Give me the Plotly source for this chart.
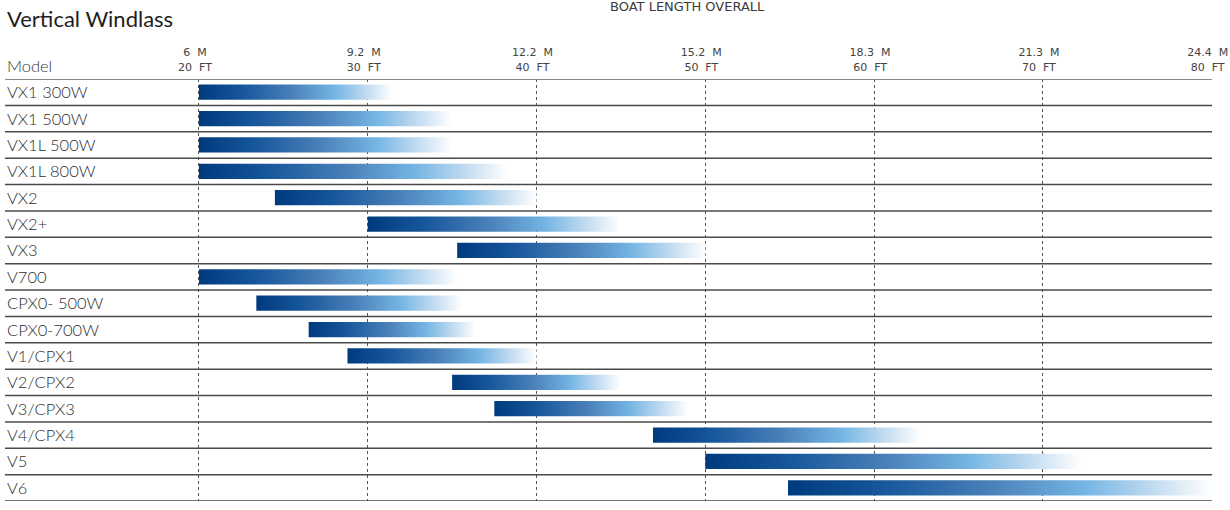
import plotly.graph_objects as go

models = ["VX1 300W", "VX1 500W", "VX1L 500W", "VX1L 800W", "VX2", "VX2+", "VX3",
          "V700", "CPX0- 500W", "CPX0-700W", "V1/CPX1", "V2/CPX2", "V3/CPX3",
          "V4/CPX4", "V5", "V6"]
start_ft = [20, 20, 20, 20, 24.5, 30, 35.3, 20, 23.4, 26.5, 28.8, 35, 37.5, 46.9, 50, 54.9]
end_ft = [31.5, 35, 35, 38.3, 40, 45, 50, 35.3, 35.6, 36.4, 40, 45, 49, 62.8, 72.3, 80]

tick_ft = [20, 30, 40, 50, 60, 70, 80]
tick_m = ["6", "9.2", "12.2", "15.2", "18.3", "21.3", "24.4"]

colorscale = [[0.0, "#003a7e"], [0.22, "#16569a"], [0.48, "#4a80b9"],
              [0.7, "#74b5e3"], [0.85, "#bcd8ef"], [1.0, "#ffffff"]]

BAR_HALF = 0.29
fig = go.Figure()
for i, (m, s, e) in enumerate(zip(models, start_ft, end_ft)):
    fig.add_trace(go.Scatter(
        x=[s, e, e, s, s],
        y=[i - BAR_HALF, i - BAR_HALF, i + BAR_HALF, i + BAR_HALF, i - BAR_HALF],
        fill="toself", mode="none",
        fillgradient=dict(type="horizontal", colorscale=colorscale),
        hoverinfo="skip", showlegend=False, name=m))

NB = "\u00a0"
ticktext = [f"{mm}{NB*2}M<br>{ft}{NB*2}FT" for mm, ft in zip(tick_m, tick_ft)]

shapes = []
for k in range(len(models) + 1):
    shapes.append(dict(type="line", xref="paper", x0=0, x1=1, yref="y",
                       y0=k - 0.5, y1=k - 0.5,
                       line=dict(color="#8a8a8a" if k == 0 else "#4a4a4a",
                                 width=2 if k == 0 else 1.5)))

annotations = []
for i, m in enumerate(models):
    annotations.append(dict(text=m, xref="paper", x=0.0, xanchor="left", yref="y", y=i,
                            yanchor="middle", showarrow=False,
                            font=dict(family="Lato", size=16.5, color="#2e2e2e", weight=300)))
annotations.append(dict(text="Model", xref="paper", x=0.0, xanchor="left",
                        yref="paper", y=1.0, yshift=13, yanchor="middle", showarrow=False,
                        font=dict(family="Lato", size=16.5, color="#3a3a3a", weight=300)))
annotations.append(dict(text="Vertical Windlass", xref="paper", x=0.0, xanchor="left",
                        xshift=0, yref="paper", y=1.0, yshift=61, yanchor="middle",
                        showarrow=False,
                        font=dict(family="Lato", size=22, color="#1e1e1e")))
annotations.append(dict(text="BOAT LENGTH OVERALL", xref="x", x=50, xshift=-18,
                        yref="paper", y=1.0, yshift=73, yanchor="middle", showarrow=False,
                        font=dict(family="DejaVu Sans", size=13, color="#3a3a3a")))

px_per_ft = (1212 - 199) / 60.0
x_left = 20 - (199 - 5) / px_per_ft

fig.update_layout(
    width=1230, height=510,
    margin=dict(l=5, r=18, t=79, b=9, autoexpand=False),
    paper_bgcolor="white", plot_bgcolor="white",
    xaxis=dict(range=[x_left, 80.02], side="top", tickvals=tick_ft, ticktext=ticktext,
               showgrid=True, griddash="dot", gridcolor="#555555", gridwidth=1,
               zeroline=False, showline=False, ticks="", fixedrange=True,
               automargin=False,
               ticklabelstandoff=5, ticklabelshift=-4, ticklabeloverflow="allow",
               tickfont=dict(family="DejaVu Sans", size=11, color="#444444")),
    yaxis=dict(range=[len(models) - 0.5, -0.5], showticklabels=False, showgrid=False,
               zeroline=False, fixedrange=True, automargin=False),
    shapes=shapes, annotations=annotations,
)

fig.write_html("out.html", post_script="document.body.style.margin='0';",
               config={"displayModeBar": False})
